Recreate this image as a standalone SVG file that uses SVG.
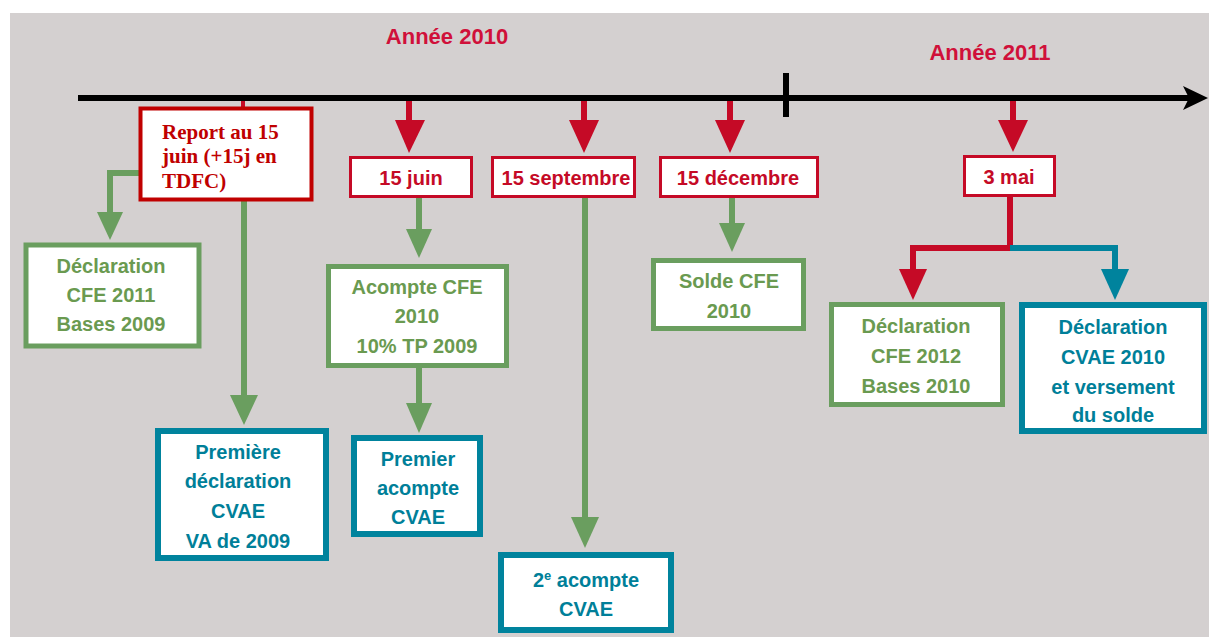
<svg xmlns="http://www.w3.org/2000/svg" width="1209" height="637" viewBox="0 0 1209 637">
<style>
.bg{fill:#d4d0d0}
.rb{stroke:#c50a26;stroke-width:3;fill:#fff}
.gb{stroke:#6a9e5f;stroke-width:5;fill:#fff}
.tb{stroke:#00839d;stroke-width:6;fill:#fff}
.lbl{font-family:"Liberation Sans",Arial,sans-serif;font-weight:bold;font-size:20px;text-anchor:middle}
.rt{fill:#c50a26}
.gt{fill:#6a9a50}
.tt{fill:#007f99}
.yr{font-family:"Liberation Sans",Arial,sans-serif;font-weight:bold;font-size:22px;fill:#d0103a}
.rep{font-family:"Liberation Serif","Times New Roman",serif;font-weight:bold;font-size:21px;fill:#c00000}
.rl{stroke:#c50a26;stroke-width:6;fill:none}
.gl{stroke:#6a9e5f;stroke-width:6;fill:none}
.tl{stroke:#00839d;stroke-width:6;fill:none}
.rh{fill:#c50a26}
.gh{fill:#6a9e5f}
.th{fill:#00839d}
</style>
<rect class="bg" x="10" y="13" width="1199" height="624"/>
<g id="timeline">
<line x1="78" y1="98" x2="1190" y2="98" stroke="#000" stroke-width="6"/>
<polygon points="1183,86 1208,98 1183,110 1189,98" fill="#000"/>
<line x1="786" y1="73" x2="786" y2="117" stroke="#000" stroke-width="6"/>
</g>
<text class="yr" x="447" y="44" text-anchor="middle">Année 2010</text>
<text class="yr" x="990" y="60" text-anchor="middle">Année 2011</text>
<g id="connectors">
<line x1="243" y1="101" x2="243" y2="108" stroke="#c50a26" stroke-width="4"/>
<polyline class="gl" points="140,173 110,173 110,215"/>
<polygon class="gh" points="97,212 123,212 110,240"/>
<line class="gl" x1="244" y1="200" x2="244" y2="398"/>
<polygon class="gh" points="230,395 258,395 244,425"/>
<line class="rl" x1="409" y1="101" x2="409" y2="123"/>
<polygon class="rh" points="395,120 425,120 409,153"/>
<line class="gl" x1="419" y1="197" x2="419" y2="232"/>
<polygon class="gh" points="406,229 432,229 419,258"/>
<line class="gl" x1="419" y1="367" x2="419" y2="406"/>
<polygon class="gh" points="406,403 432,403 419,433"/>
<line class="rl" x1="584" y1="101" x2="584" y2="123"/>
<polygon class="rh" points="569,120 599,120 584,153"/>
<line class="gl" x1="585" y1="197" x2="585" y2="520"/>
<polygon class="gh" points="571,517 599,517 585,548"/>
<line class="rl" x1="730" y1="101" x2="730" y2="123"/>
<polygon class="rh" points="715,120 745,120 730,153"/>
<line class="gl" x1="732" y1="198" x2="732" y2="226"/>
<polygon class="gh" points="719,223 745,223 732,252"/>
<line class="rl" x1="1013" y1="101" x2="1013" y2="123"/>
<polygon class="rh" points="998,120 1028,120 1013,152"/>
<polyline class="rl" points="1010,196 1010,248 913,248 913,272"/>
<polygon class="rh" points="899,269 927,269 913,300"/>
<polyline class="tl" points="1010,248 1115,248 1115,272"/>
<polygon class="th" points="1101,269 1129,269 1115,300"/>
</g>
<g id="report">
<rect x="140.5" y="108.5" width="171" height="91" stroke="#c00000" stroke-width="4" fill="#fff"/>
<text class="rep" x="162" y="139">Report au 15</text>
<text class="rep" x="162" y="163">juin (+15j en</text>
<text class="rep" x="162" y="188">TDFC)</text>
</g>
<g id="decl-cfe-2011">
<rect class="gb" x="26" y="245" width="173" height="101"/>
<text class="lbl gt" x="111" y="273">Déclaration</text>
<text class="lbl gt" x="111" y="302">CFE 2011</text>
<text class="lbl gt" x="111" y="331">Bases 2009</text>
</g>
<g id="premiere-decl">
<rect class="tb" x="158" y="431" width="168" height="127"/>
<text class="lbl tt" x="238" y="459">Première</text>
<text class="lbl tt" x="238" y="488">déclaration</text>
<text class="lbl tt" x="238" y="518">CVAE</text>
<text class="lbl tt" x="238" y="548">VA de 2009</text>
</g>
<g id="d-15juin">
<rect class="rb" x="350.5" y="157.5" width="121" height="39"/>
<text class="lbl rt" x="411" y="185">15 juin</text>
</g>
<g id="acompte-cfe">
<rect class="gb" x="328.5" y="266.5" width="178" height="99"/>
<text class="lbl gt" x="417" y="294">Acompte CFE</text>
<text class="lbl gt" x="417" y="323">2010</text>
<text class="lbl gt" x="417" y="353">10% TP 2009</text>
</g>
<g id="premier-acompte">
<rect class="tb" x="354" y="438" width="126" height="96"/>
<text class="lbl tt" x="418" y="466">Premier</text>
<text class="lbl tt" x="418" y="495">acompte</text>
<text class="lbl tt" x="418" y="524">CVAE</text>
</g>
<g id="d-15sept">
<rect class="rb" x="492.5" y="157.5" width="142" height="39"/>
<text class="lbl rt" x="566" y="185">15 septembre</text>
</g>
<g id="deuxieme-acompte">
<rect class="tb" x="501" y="555" width="170" height="75"/>
<text class="lbl tt" x="586" y="587">2<tspan font-size="13" dy="-7">e</tspan><tspan dy="7"> acompte</tspan></text>
<text class="lbl tt" x="586" y="616">CVAE</text>
</g>
<g id="d-15dec">
<rect class="rb" x="660.5" y="157.5" width="157" height="39"/>
<text class="lbl rt" x="738" y="185">15 décembre</text>
</g>
<g id="solde-cfe">
<rect class="gb" x="653.5" y="260.5" width="150" height="68"/>
<text class="lbl gt" x="729" y="288">Solde CFE</text>
<text class="lbl gt" x="729" y="318">2010</text>
</g>
<g id="d-3mai">
<rect class="rb" x="964.5" y="156.5" width="90" height="39"/>
<text class="lbl rt" x="1009" y="184">3 mai</text>
</g>
<g id="decl-cfe-2012">
<rect class="gb" x="831.5" y="304.5" width="171" height="100"/>
<text class="lbl gt" x="916" y="333">Déclaration</text>
<text class="lbl gt" x="916" y="363">CFE 2012</text>
<text class="lbl gt" x="916" y="393">Bases 2010</text>
</g>
<g id="decl-cvae-2010">
<rect class="tb" x="1022" y="305" width="182" height="126"/>
<text class="lbl tt" x="1113" y="334">Déclaration</text>
<text class="lbl tt" x="1113" y="364">CVAE 2010</text>
<text class="lbl tt" x="1113" y="394">et versement</text>
<text class="lbl tt" x="1113" y="422">du solde</text>
</g>
</svg>
